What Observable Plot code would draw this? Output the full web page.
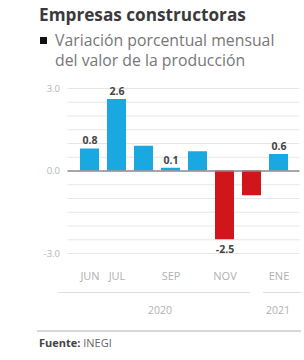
<!DOCTYPE html>
<html><head><meta charset="utf-8">
<script src="https://cdn.jsdelivr.net/npm/d3@7"></script>
<script src="https://cdn.jsdelivr.net/npm/@observablehq/plot@0.6"></script>
<style>
body{margin:0;background:#fff;font-family:"Open Sans",Lato,sans-serif;}
#wrap{position:relative;width:304px;height:360px;overflow:hidden;}
#title{position:absolute;left:39px;top:3px;font-size:17.2px;line-height:24px;font-weight:700;color:#3a3a3a;white-space:nowrap;}
#sub{position:absolute;left:55px;top:30px;font-size:15.8px;line-height:20px;color:#777;white-space:nowrap;}
#bul{position:absolute;left:40px;top:37px;width:7px;height:7px;background:#111;}
#chart{position:absolute;left:0;top:62px;}
#chart svg{background:transparent !important;}
.ln{position:absolute;height:0;}
#src{position:absolute;left:39px;top:335px;font-size:11px;line-height:16px;color:#666;}
</style></head><body>
<div id="wrap">
<div id="title">Empresas constructoras</div>
<div id="bul"></div>
<div id="sub">Variación porcentual mensual<br>del valor de la producción</div>
<div id="chart"></div>
<div class="ln" style="left:58px;width:192px;top:292px;border-top:1px solid #dedede"></div>
<div class="ln" style="left:263px;width:38px;top:292px;border-top:1px solid #dedede"></div>
<div class="ln" style="left:37px;width:264px;top:330px;border-top:2px solid #d8d8d8"></div>
<div id="src"><b style="color:#444">Fuente:</b> INEGI</div>
</div>
<script>
const months = ["JUN","JUL","AGO","SEP","OCT","NOV","DIC","ENE"];
const values = [0.8, 2.6, 0.9, 0.1, 0.7, -2.5, -0.9, 0.6];
const valueLabels = ["0.8","2.6","","0.1","","-2.5","","0.6"];
const tickMonths = ["JUN","JUL","SEP","NOV","ENE"];
const yTicks = [-3, 0, 3];
const gridLines = [-3,-2.5,-2,-1.5,-1,-0.5,0.5,1,1.5,2,2.5,3];
const year2020 = ["2020"];
const year2021 = ["2021"];

const data = months.map((m,i)=>({m, v: values[i], lab: valueLabels[i]}));
const labeled = data.filter(d=>d.lab !== "");

const chart = Plot.plot({
  width: 304, height: 258,
  marginLeft: 67.5, marginRight: 4.5, marginTop: 26, marginBottom: 67,
  x: {domain: months, padding: 0.31, axis: null},
  y: {domain: [-3, 3], axis: null},
  style: {fontFamily: "'Open Sans', Lato, sans-serif", background: "transparent"},
  marks: [
    Plot.ruleY(gridLines, {stroke: "#e6e6e6", strokeWidth: 1}),
    Plot.barY(data, {x: "m", y: "v", fill: d => d.v < 0 ? "#d0151b" : "#1aa8e0"}),
    Plot.ruleY([0], {stroke: "#888", strokeWidth: 1.5}),
    Plot.text(labeled.filter(d=>d.v>=0), {x: "m", y: "v", text: "lab", dy: -8, fontSize: 10.5, fontWeight: 700, fill: "#444"}),
    Plot.text(labeled.filter(d=>d.v<0), {x: "m", y: "v", text: "lab", dy: 10, fontSize: 10.5, fontWeight: 700, fill: "#444"}),
    Plot.text(yTicks, {y: d => d, text: d => d.toFixed(1), frameAnchor: "left", dx: -8, textAnchor: "end", fontSize: 9.5, fill: "#b5b5b5"}),
    Plot.axisX(tickMonths, {tickSize: 0, tickPadding: 19, fontSize: 11, fill: "#b0b0b0", label: null}),
    Plot.text(year2020, {x: () => "SEP", text: d => d, frameAnchor: "bottom", dy: 60, dx: -11, fontSize: 10.5, fill: "#b0b0b0"}),
    Plot.text(year2021, {x: () => "ENE", text: d => d, frameAnchor: "bottom", dy: 60, dx: -1, fontSize: 10.5, fill: "#b0b0b0"})
  ]
});
document.getElementById("chart").append(chart);
</script>
</body></html>
